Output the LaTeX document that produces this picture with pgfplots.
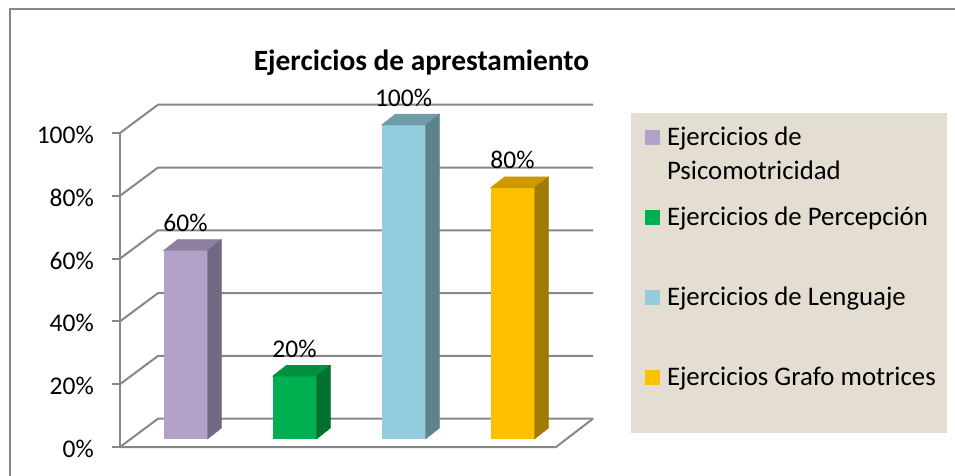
\documentclass[border=0pt]{standalone}
\usepackage{fontspec}
\setmainfont{Carlito}
\usepackage{pgfplots}
\pgfplotsset{compat=1.18}
\definecolor{gridc}{HTML}{878787}
\definecolor{borderc}{HTML}{888888}
\definecolor{legbg}{HTML}{E3DDD2}
\definecolor{pf}{HTML}{B3A2C7}\definecolor{pt}{HTML}{8E7EA2}\definecolor{ps}{HTML}{726882}
\definecolor{gf}{HTML}{00B050}\definecolor{gt}{HTML}{00903F}\definecolor{gs}{HTML}{00712F}
\definecolor{bf}{HTML}{93CDDD}\definecolor{bt}{HTML}{6F9CA8}\definecolor{bs}{HTML}{5E838D}
\definecolor{yf}{HTML}{FFC000}\definecolor{yt}{HTML}{CC9900}\definecolor{ys}{HTML}{A17A00}

\pgfdeclareplotmark{nomark}{}
\newcommand\legtext[2][48pt]{\raisebox{15pt}[32pt][48pt]{\parbox[t]{280pt}{\rule{0pt}{32pt}#2\rule[-#1]{0pt}{#1}}}}

\pgfplotsset{
  face3d/.style n args={2}{forget plot, only marks, mark=nomark, scatter,
    visualization depends on={rawy \as \val},
    scatter/@pre marker code/.code={%
      \fill[#1] (-22pt,0pt) -- (22pt,0pt) -- (36pt,11pt) -- (-8pt,11pt) -- cycle;
      \pgfmathsetlengthmacro\h{\val*3.14pt}%
      \fill[#2] (22pt,0pt) -- (36pt,11pt) -- (36pt,11pt-\h) -- (22pt,-\h) -- cycle;},
    scatter/@post marker code/.code={}},
  bar3d/.style={ybar, bar width=44pt, bar shift=0pt, fill=#1, draw=none,
    point meta=explicit symbolic, nodes near coords,
    nodes near coords align={anchor=base},
    every node near coord/.append style={font=\fontsize{25.5}{30}\selectfont, anchor=base, yshift=19pt, inner sep=0pt, text=black},
    legend image code/.code={\path[fill=none,draw=none] (-14pt,-48pt) rectangle (22pt,32pt); \fill[#1] (0pt,0pt) rectangle (15pt,15pt);}},
}

\begin{document}
\begin{tikzpicture}[x=1pt,y=1pt]
\path[use as bounding box] (0,0) rectangle (955,475);
\draw[borderc, line width=1.5pt] (10,-5) -- (10,466) -- (960,466);
\node[font=\bfseries\fontsize{29.4}{34}\selectfont, anchor=base] at (421.5,404) {Ejercicios de aprestamiento};

\begin{axis}[at={(120pt,28pt)}, anchor=south west, x=1pt, y=3.14pt,
  xmin=0, xmax=436, ymin=0, ymax=100, clip=false,
  axis x line=none, axis y line*=left,
  y axis line style={gridc, line width=2pt, -},
  xtick=\empty,
  ytick={0,20,40,60,80,100}, yticklabels={0\%,20\%,40\%,60\%,80\%,100\%},
  tick align=outside, major tick length=8pt,
  ytick style={gridc, line width=2pt},
  yticklabel style={font=\fontsize{25.5}{30}\selectfont, anchor=east, inner sep=0pt, xshift=-18pt, yshift=-2pt}]
\pgfplotsinvokeforeach{0,20,40,60,80,100}{%
  \draw[gridc, line width=2pt, line join=round] (axis cs:0,#1) -- ++(38pt,28.3pt) -- ++(435pt,0pt);}
\draw[gridc, line width=2pt, line join=round] (axis cs:0,0) -- (axis cs:436,0) -- ++(37pt,28.3pt);
\end{axis}

\begin{axis}[at={(131pt,36pt)}, anchor=south west, x=109pt, y=3.14pt,
  xmin=0, xmax=4, ymin=0, ymax=100, hide axis, clip=false,
  legend cell align=left,
  legend style={at={(1.1468,1.0382)}, anchor=north west, fill=legbg, draw=none,
    inner sep=0pt, outer sep=0pt, row sep=0pt, column sep=0pt,
    font=\fontsize{26.8}{34}\selectfont,
    nodes={inner sep=0pt, outer sep=0pt}}]
\addplot[bar3d=pf] coordinates {(0.5,60) [60\%]};
\addlegendentry{\legtext[14pt]{Ejercicios de\newline Psicomotricidad}}
\addplot[bar3d=gf] coordinates {(1.5,20) [20\%]};
\addlegendentry{\legtext{Ejercicios de Percepción}}
\addplot[bar3d=bf] coordinates {(2.5,100) [100\%]};
\addlegendentry{\legtext{Ejercicios de Lenguaje}}
\addplot[bar3d=yf] coordinates {(3.5,80) [80\%]};
\addlegendentry{\legtext{Ejercicios Grafo motrices}}
\addplot[face3d={pt}{ps}] coordinates {(0.5,60)};
\addplot[face3d={gt}{gs}] coordinates {(1.5,20)};
\addplot[face3d={bt}{bs}] coordinates {(2.5,100)};
\addplot[face3d={yt}{ys}] coordinates {(3.5,80)};
\end{axis}
\end{tikzpicture}
\end{document}
